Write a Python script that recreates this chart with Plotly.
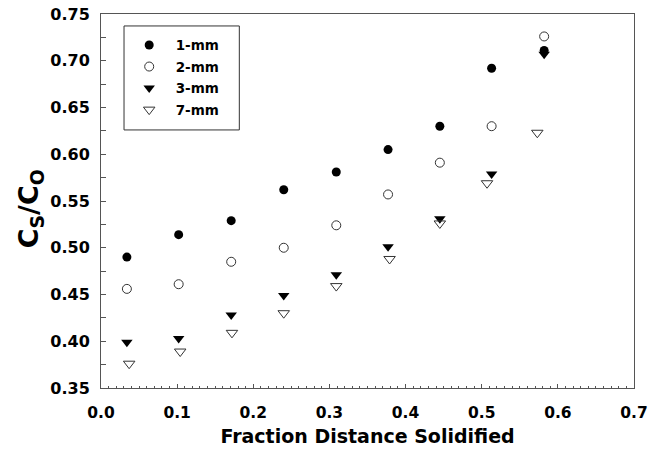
import plotly.graph_objects as go

x_main = [0.034, 0.102, 0.171, 0.240, 0.309, 0.377, 0.445, 0.513, 0.582]
y_1mm = [0.490, 0.514, 0.529, 0.562, 0.581, 0.605, 0.630, 0.692, 0.711]
y_2mm = [0.456, 0.461, 0.485, 0.500, 0.524, 0.557, 0.591, 0.630, 0.726]
y_3mm = [0.399, 0.403, 0.428, 0.449, 0.471, 0.501, 0.531, 0.579, 0.707]
x_7mm = [0.037, 0.104, 0.172, 0.240, 0.309, 0.379, 0.445, 0.507, 0.573]
y_7mm = [0.376, 0.389, 0.409, 0.430, 0.459, 0.488, 0.526, 0.569, 0.623]

TICK_FONT = "DejaVu Sans"
fig = go.Figure()
series = [
    ("1-mm", x_main, y_1mm, dict(symbol="circle", size=9, color="black", line=dict(width=0))),
    ("2-mm", x_main, y_2mm, dict(symbol="circle-open", size=9, color="#333333", line=dict(width=1))),
    ("3-mm", x_main, y_3mm, dict(symbol="triangle-down", size=10, color="black", line=dict(width=0))),
    ("7-mm", x_7mm, y_7mm, dict(symbol="triangle-down-open", size=10, color="#333333", line=dict(width=1))),
]
for name, xs, ys, mk in series:
    fig.add_trace(go.Scatter(x=xs, y=ys, mode="markers", name=name, marker=mk, legendgroup=name))

axis_common = dict(
    showline=True, linecolor="#555555", linewidth=1, mirror=True,
    ticks="inside", tickcolor="#555555", showgrid=False, zeroline=False,
)
fig.update_xaxes(range=[0, 0.7], dtick=0.1, tickformat=".1f", ticklen=4, ticklabelstandoff=10,
                 ticklabeloverflow="allow",
                 tickfont=dict(family=TICK_FONT, size=15.5, color="black", weight="bold"),
                 minor=dict(ticks="inside", dtick=0.01, ticklen=2, tickcolor="#555555"),
                 title=dict(text="Fraction Distance Solidified", standoff=9,
                            font=dict(family=TICK_FONT, size=19, color="black", weight="bold")),
                 **axis_common)
fig.update_yaxes(range=[0.35, 0.75], dtick=0.05, tickformat=".2f", ticklen=5, ticklabelstandoff=7,
                 tickfont=dict(family=TICK_FONT, size=16, color="black", weight="bold"),
                 minor=dict(ticks="inside", dtick=0.025, ticklen=5, tickcolor="#555555"),
                 **axis_common)
# y-axis title placed as a rotated annotation so it can sit slightly below centre, as in the reference
fig.add_annotation(text="C<sub>S</sub>/C<sub>O</sub>", textangle=-90, showarrow=False,
                   xref="paper", yref="paper", x=-0.133, y=0.478, xanchor="center", yanchor="middle",
                   font=dict(family=TICK_FONT, size=27, color="black", weight="bold"))
fig.add_shape(type="rect", xref="paper", yref="paper", x0=0.0432, x1=0.2595, y0=0.690, y1=0.968,
              line=dict(color="#333333", width=1), fillcolor="rgba(0,0,0,0)", layer="above")
fig.update_layout(
    width=648, height=458,
    margin=dict(l=101, r=14, t=14, b=70, autoexpand=False),
    plot_bgcolor="white", paper_bgcolor="white",
    legend=dict(x=0.0407, y=0.958, xanchor="left", yanchor="top",
                borderwidth=0, bgcolor="rgba(0,0,0,0)",
                font=dict(family=TICK_FONT, size=13.5, color="black", weight="bold"),
                tracegroupgap=1, itemwidth=43, entrywidth=100),
)
fig.write_html("out.html", config={"displayModeBar": False},
               post_script="document.body.style.margin='0';document.body.style.overflow='hidden';")
